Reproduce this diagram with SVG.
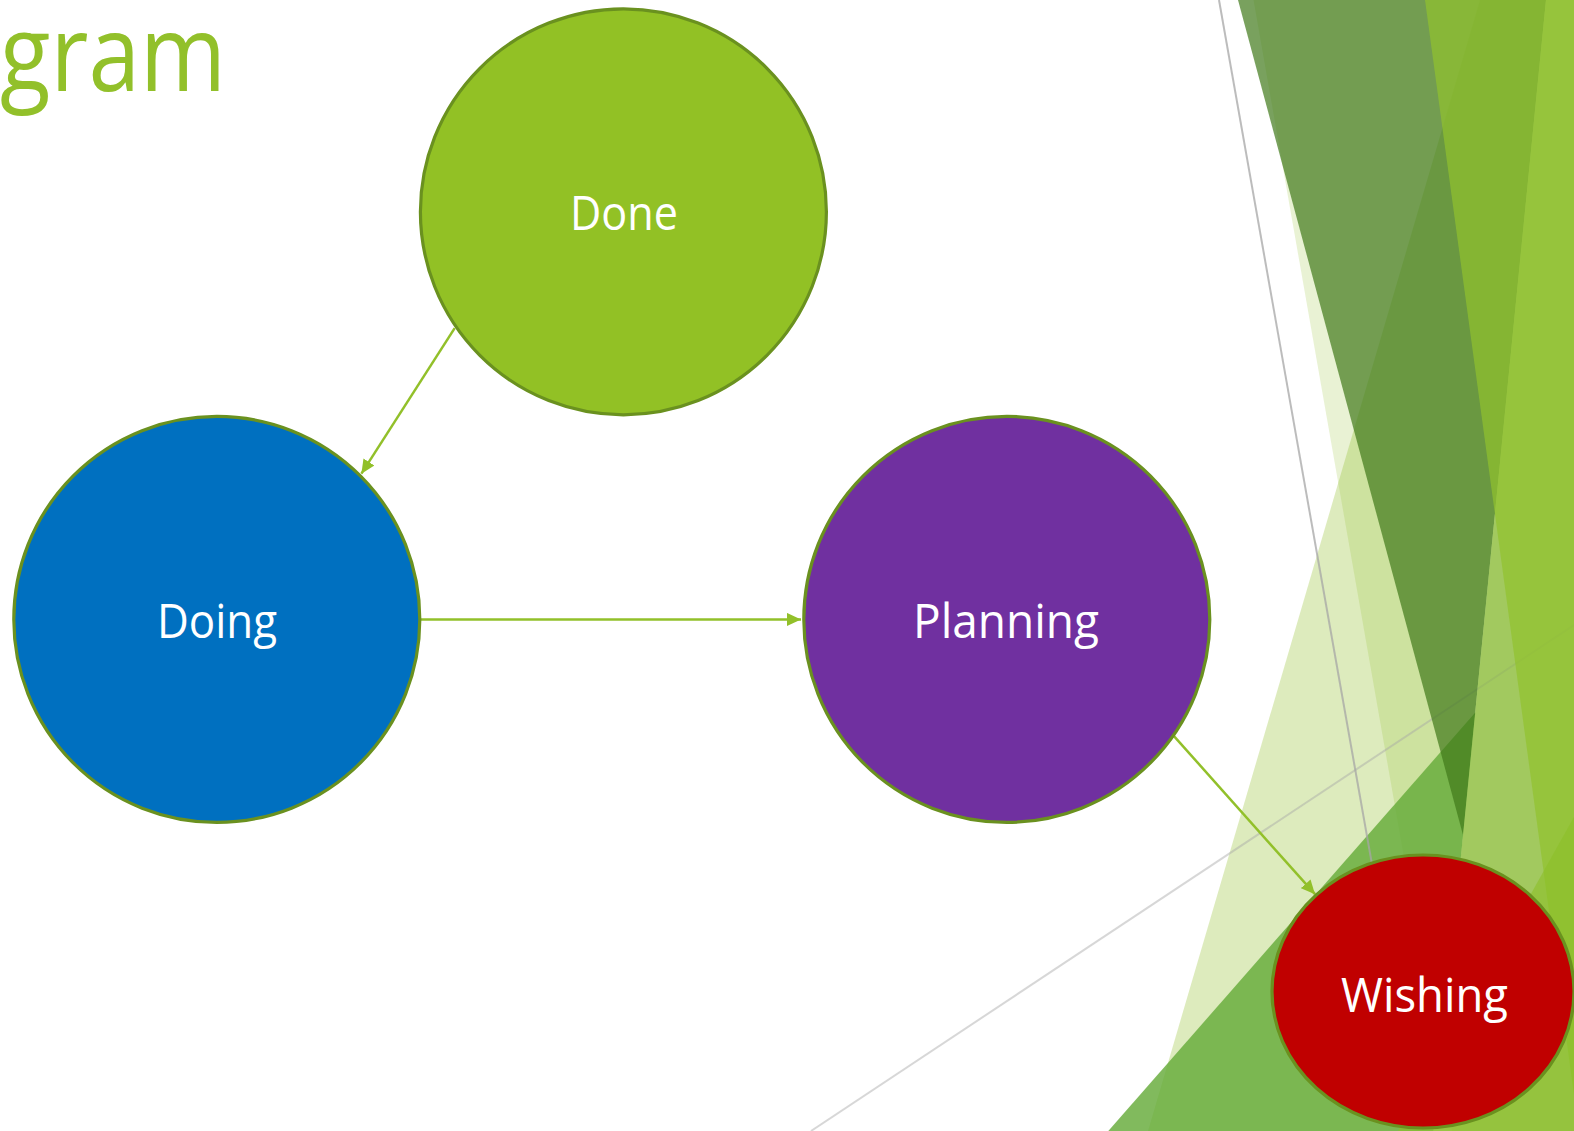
<svg xmlns="http://www.w3.org/2000/svg" width="1574" height="1131" viewBox="0 0 1574 1131">
  <style>
    .node { stroke: #6A911F; stroke-width: 3.2; }
    .label { font-family: "Open Sans", "Noto Sans", "DejaVu Sans", sans-serif; font-size: 47px; fill: #FFFFFF; text-anchor: middle; }
    .conn { stroke: #92C02A; stroke-width: 2.5; fill: none; marker-end: url(#arrow); }
    .title { font-family: "Open Sans", "Noto Sans", "DejaVu Sans", sans-serif; font-size: 106px; fill: #92C02A; }
  </style>
  <defs>
    <marker id="arrow" markerUnits="userSpaceOnUse" markerWidth="15" markerHeight="13" refX="14" refY="6.5" orient="auto">
      <path d="M0,0 L14,6.5 L0,13 Z" fill="#92C02A"/>
    </marker>
  </defs>
  <rect x="0" y="0" width="1574" height="1131" fill="#FFFFFF"/>
  <g id="background">
    <polygon points="1480,0 1574,0 1574,1131 1148,1131" fill="#92C02A" fill-opacity="0.31"/>
    <polygon points="1253.5,0 1574,0 1574,1131 1452,1131" fill="#92C02A" fill-opacity="0.2"/>
    <polygon points="1108.3,1131 1475.3,712.5 1433.6,1131" fill="rgb(101,171,57)" fill-opacity="0.82"/>
    <line x1="811" y1="1131" x2="1574" y2="625" stroke="#A6A6A6" stroke-opacity="0.45" stroke-width="2"/>
    <polygon points="1238,0 1546,0 1463,835" fill="#407919" fill-opacity="0.7"/>
    <polygon points="1546,0 1574,0 1574,1131 1433.6,1131" fill="rgb(134,185,53)" fill-opacity="0.6"/>
    <polygon points="1425,0 1574,0 1574,1095" fill="rgb(146,194,45)" fill-opacity="0.7"/>
    <polygon points="1574,817 1398,1131 1574,1131" fill="#8CBF28" fill-opacity="0.6"/>
    <line x1="1219" y1="0" x2="1396" y2="1000" stroke="#A6A6A6" stroke-opacity="0.75" stroke-width="2"/>
  </g>
  <text class="title" x="0" y="91" textLength="226" lengthAdjust="spacingAndGlyphs">gram</text>
  <g id="connectors">
    <line class="conn" x1="454.7" y1="328.2" x2="361.4" y2="473.7"/>
    <line class="conn" x1="420.6" y1="619.4" x2="801" y2="619.4"/>
    <line class="conn" x1="1173.5" y1="735.6" x2="1315" y2="894.2"/>
  </g>
  <g id="node-done">
    <circle class="node" cx="623.4" cy="211.8" r="203" fill="#92C125"/>
    <text class="label" x="624" y="230" textLength="108" lengthAdjust="spacingAndGlyphs">Done</text>
  </g>
  <g id="node-doing">
    <circle class="node" cx="216.8" cy="619.4" r="203" fill="#0070C0"/>
    <text class="label" x="217" y="638" textLength="120" lengthAdjust="spacingAndGlyphs">Doing</text>
  </g>
  <g id="node-planning">
    <circle class="node" cx="1006.8" cy="619.4" r="203" fill="#7030A0"/>
    <text class="label" x="1006" y="638" textLength="186" lengthAdjust="spacingAndGlyphs">Planning</text>
  </g>
  <g id="node-wishing">
    <ellipse class="node" cx="1423" cy="991.5" rx="151" ry="136.5" fill="#C00000"/>
    <text class="label" x="1424.5" y="1012" textLength="167" lengthAdjust="spacingAndGlyphs">Wishing</text>
  </g>
</svg>
